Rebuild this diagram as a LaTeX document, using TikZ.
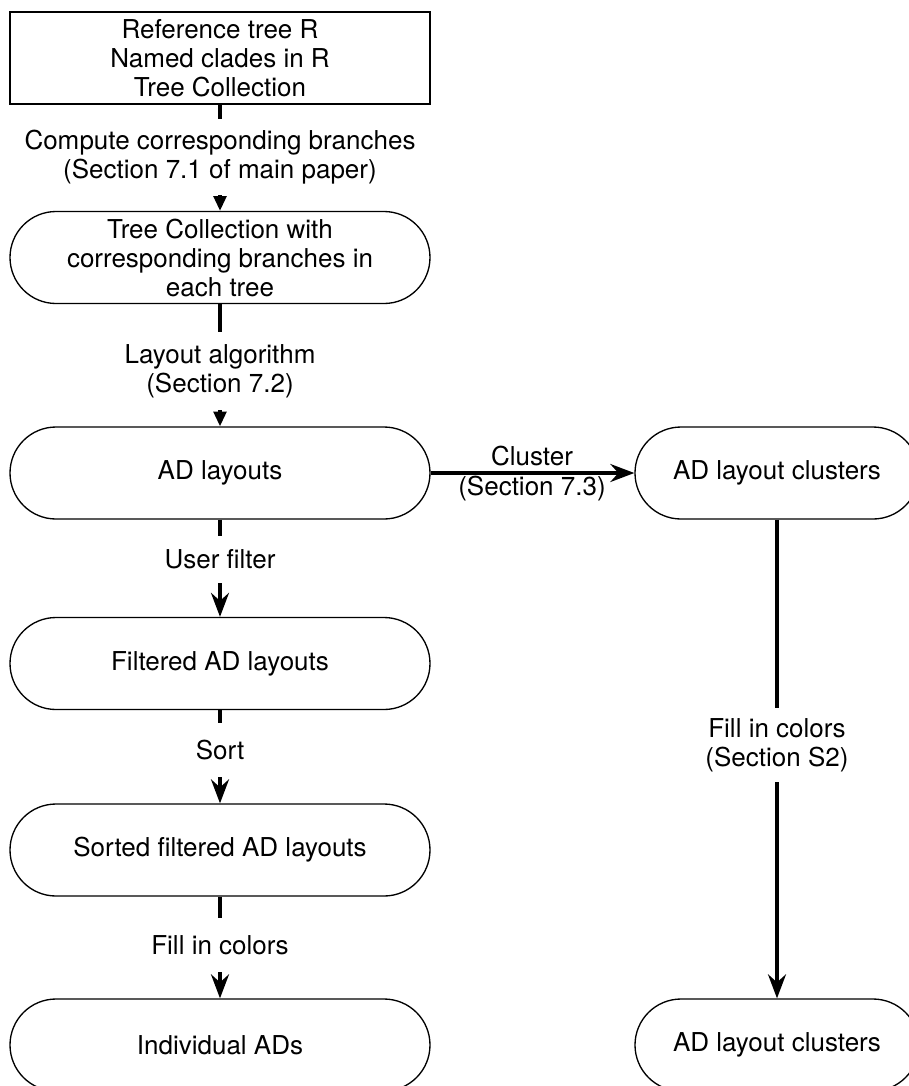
\documentclass[tikz,border=0pt]{standalone}
\usepackage{fontspec}
\setmainfont{TeX Gyre Heros}
\usetikzlibrary{arrows.meta}
\begin{document}
\begin{tikzpicture}[x=0.75pt,y=-0.75pt,
  every node/.style={font=\fontsize{19.5}{21.75}\selectfont},
  stbox/.style={draw,line width=1pt,minimum width=315pt,minimum height=69pt,inner sep=0pt,align=center},
  proc/.style={draw,line width=1pt,rounded corners=34.5pt,minimum width=315pt,minimum height=69pt,inner sep=0pt,align=center},
  wproc/.style={proc,minimum width=213pt},
  lbl/.style={fill=white,inner xsep=2pt,inner ysep=0pt,align=center},
  varr/.style={line width=2.4pt,-{Stealth[length=18pt,width=13.5pt,inset=6pt]}},
  tarr/.style={line width=2.4pt,-{Triangle[length=11pt,width=9.5pt]}}
]
\useasboundingbox (0,0) rectangle (909,1086);
\clip (0,0) rectangle (909,1086);

\node[stbox] (ref) at (220,58) {Reference tree R\\Named clades in R\\Tree Collection};
\node[proc] (tc) at (220,257.5) {Tree Collection with\\corresponding branches in\\each tree};
\node[proc] (adl) at (220,473) {AD layouts};
\node[wproc] (adc) at (777,473) {AD layout clusters};
\node[proc] (filt) at (220,663.5) {Filtered AD layouts};
\node[proc] (sorted) at (220,850) {Sorted filtered AD layouts};
\node[proc] (ind) at (220,1045) {Individual ADs};
\node[wproc] (adc2) at (777,1045) {AD layout clusters};

\draw[tarr] (ref) -- (tc);
\draw[tarr] (tc) -- (adl);
\draw[varr] (adl) -- (filt);
\draw[varr] (filt) -- (sorted);
\draw[varr] (sorted) -- (ind);
\draw[varr] (adl) -- (adc);
\draw[varr] (adc) -- (adc2);

\node[lbl,minimum height=57pt] (l1) at (220,157) {Compute corresponding branches\\(Section 7.1 of main paper)};
\node[lbl,minimum height=58pt] (l2) at (220,371) {Layout algorithm\\(Section 7.2)};
\node[lbl,minimum height=35pt] (l3) at (220,559.5) {User filter};
\node[lbl,minimum height=40.5pt] (l4) at (220,750) {Sort};
\node[lbl,minimum height=40.5pt] (l5) at (220,945) {Fill in colors};
\node[lbl,minimum height=56pt] (l6) at (777,745) {Fill in colors\\(Section S2)};
\node[align=center,font=\fontsize{19.5}{22.5}\selectfont] (l7) at (532,474) {Cluster\\(Section 7.3)};
\end{tikzpicture}
\end{document}
